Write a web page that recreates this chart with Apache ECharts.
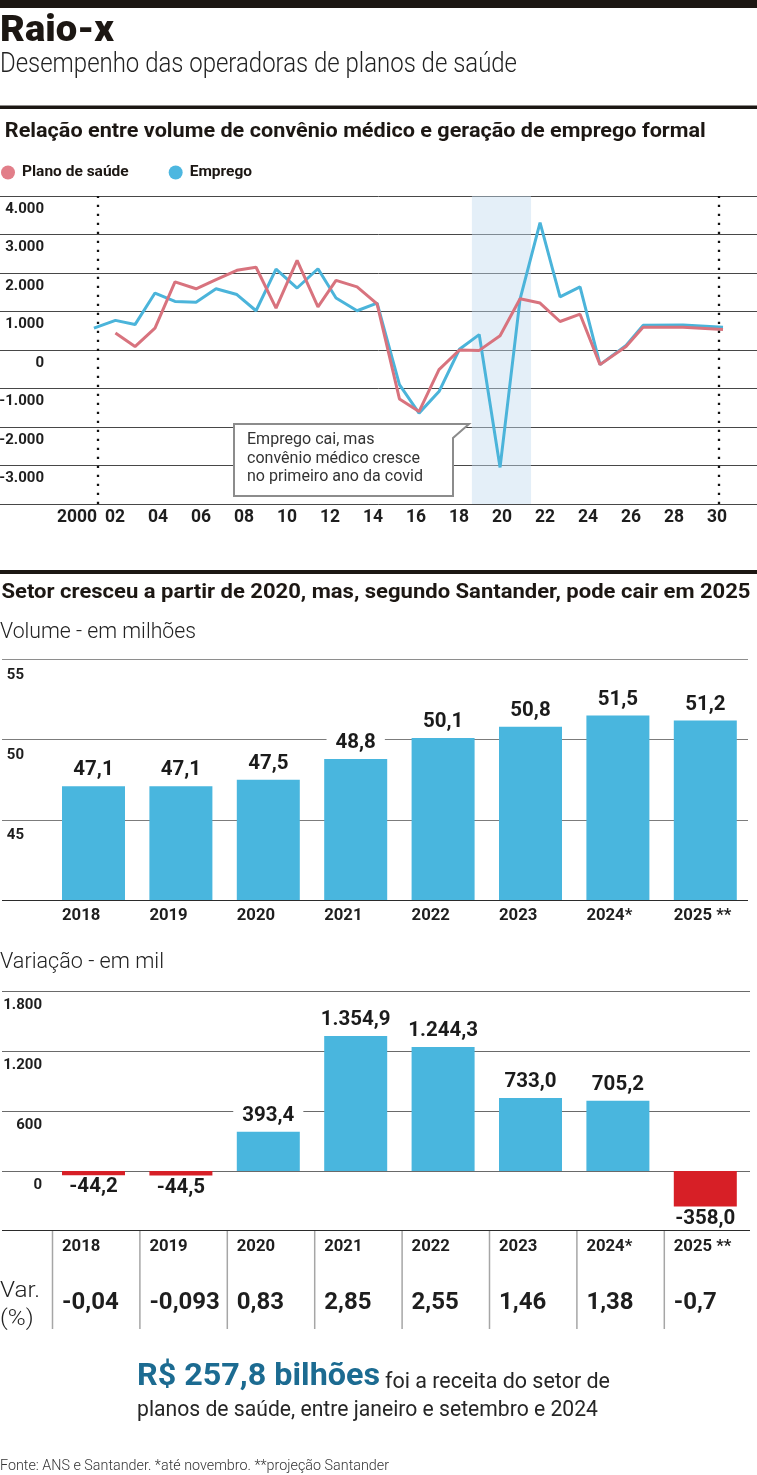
<!DOCTYPE html>
<html><head><meta charset="utf-8">
<script src="https://cdn.jsdelivr.net/npm/echarts@6/dist/echarts.min.js"></script>
<style>html,body{margin:0;padding:0;background:#fff;}#c{width:757px;height:1475px;}</style>
</head><body><div id="c"></div>
<script>
// ---------------- data ----------------
// horizontal position of each plotted point, in axis years (as drawn)
const pointPos = [2001.02, 2002.02, 2002.93, 2003.86, 2004.79, 2005.77, 2006.70, 2007.67, 2008.56, 2009.49,
  2010.47, 2011.44, 2012.28, 2013.26, 2014.19, 2015.23, 2016.14, 2017.07, 2018.02, 2018.94,
  2019.91, 2020.84, 2021.77, 2022.70, 2023.63, 2024.56, 2025.77, 2026.56, 2028.42, 2030.28];
const emprego = [570, 770, 660, 1480, 1260, 1240, 1590, 1440, 1020, 2100,
  1610, 2110, 1350, 1020, 1220, -900, -1640, -1080, 20, 400,
  -3050, 1320, 3310, 1380, 1640, -380, 120, 640, 650, 590];
const planoSaude = [null, 440, 90, 570, 1770, 1590, 1830, 2070, 2150, 1090,
  2330, 1120, 1810, 1640, 1200, -1270, -1600, -510, 0, -10,
  370, 1330, 1220, 740, 930, -380, 90, 590, 590, 530];
const covidStart = 2018.6, covidEnd = 2021.35;
const dottedMarks = [2001.18, 2030.09];

const barYears = ['2018', '2019', '2020', '2021', '2022', '2023', '2024*', '2025 **'];
const volume = [47.1, 47.1, 47.5, 48.8, 50.1, 50.8, 51.5, 51.2];
const variacao = [-44.2, -44.5, 393.4, 1354.9, 1244.3, 733.0, 705.2, -358.0];
const varPct = ['-0,04', '-0,093', '0,83', '2,85', '2,55', '1,46', '1,38', '-0,7'];

// ---------------- styling ----------------
const FONT = "Roboto,'Liberation Sans',sans-serif";
const INK = '#1c1713';
const BAR_BLUE = '#49b6de', BAR_RED = '#d71f26';
const LINE_RED = '#d8737e', LINE_BLUE = '#4bb4da';

const cv = document.createElement('canvas').getContext('2d');
function measure(text, weight, size) {
  cv.font = weight + ' ' + size + 'px ' + FONT;
  return cv.measureText(text).width;
}
function ptBR(v, dec) {
  const neg = v < 0;
  const s = Math.abs(v).toFixed(dec).split('.');
  const i = s[0].replace(/\B(?=(\d{3})+(?!\d))/g, '.');
  return (neg ? '-' : '') + i + (s[1] ? ',' + s[1] : '');
}

const TITLE = 'Raio-x';
const SUB = 'Desempenho das operadoras de planos de saúde';
const SEC1 = 'Relação entre volume de convênio médico e geração de emprego formal';
const SEC2 = 'Setor cresceu a partir de 2020, mas, segundo Santander, pode cair em 2025';
const VOL = 'Volume - em milhões';
const VAR = 'Variação - em mil';
const NOTE = 'Emprego cai, mas\nconvênio médico cresce\nno primeiro ano da covid';
const C1 = 'R$ 257,8 bilhões', C2 = 'foi a receita do setor de', C3 = 'planos de saúde, entre janeiro e setembro e 2024';
const FOOT = 'Fonte: ANS e Santander. *até novembro. **projeção Santander';

// condensed text: real text, squeezed horizontally to the reference width
function ST(id, text, x, y, size, weight, color, targetW, refLine, extra) {
  const w = measure(refLine || text, weight, size);
  return {type: 'text', id: id, x: x, y: y, z: 20, silent: true, scaleX: targetW / w, scaleY: 1,
    style: Object.assign({text: text, fontSize: size, fontWeight: weight, fontFamily: FONT,
      fill: color, align: 'left', verticalAlign: 'middle'}, extra || {})};
}

const baseGraphic = [
  {type: 'rect', id: 'topbar', shape: {x: 0, y: 0, width: 757, height: 8}, style: {fill: INK}, silent: true},
  ST('title', TITLE, 0, 32, 36, 900, INK, 114),
  ST('sub', SUB, 0, 65, 27, 300, '#222', 517),
  {type: 'rect', id: 'rule1', shape: {x: 0, y: 105.5, width: 757, height: 3.5}, style: {fill: INK}, silent: true},
  ST('sec1', SEC1, 4.8, 131.5, 21, 'bold', INK, 701),
  {type: 'polygon', id: 'notebox', z: 15, silent: true,
    shape: {points: [[234, 424], [469, 424], [453, 438], [453, 496], [234, 496]]},
    style: {fill: '#fff', stroke: '#8c8c8c', lineWidth: 2}},
  ST('note', NOTE, 247, 430.6, 16.5, 'normal', '#333', 173, 'convênio médico cresce', {verticalAlign: 'top', lineHeight: 18.7}),
  {type: 'rect', id: 'rule2', shape: {x: 0, y: 570, width: 757, height: 4}, style: {fill: INK}, silent: true},
  ST('sec2', SEC2, 1.5, 592.5, 21, 'bold', INK, 749),
  ST('vol', VOL, 0, 632, 22.5, 300, '#222', 196),
  ST('var', VAR, 0, 962.5, 22.5, 300, '#222', 164),
  ST('varpct', 'Var.\n(%)', 0, 1277.9, 22, 300, '#222', 40, 'Var.', {verticalAlign: 'top', lineHeight: 27.6}),
  ST('c1', C1, 137, 1377.5, 30.5, 'bold', '#1c6b91', 243),
  ST('c2', C2, 385, 1382.5, 21.5, 'normal', '#262626', 225),
  ST('c3', C3, 137, 1410.5, 21.5, 'normal', '#262626', 461),
  ST('foot', FOOT, 0, 1466, 14, 300, '#333', 389)
];

const numStyle = {fontFamily: FONT, fontWeight: 'bold', color: '#1e1e1e'};
const barLabel = {show: true, fontFamily: FONT, fontWeight: 'bold', fontSize: 20.5, color: '#1b1b1b',
  backgroundColor: '#fff', padding: [0, 9], lineHeight: 22, distance: 5,
  formatter: p => ptBR(p.value, 1)};

const option = {
  animation: false,
  backgroundColor: '#fff',
  graphic: baseGraphic,
  legend: {
    left: 1, top: 164.5, padding: 0, icon: 'circle', itemWidth: 14, itemHeight: 14, itemGap: 40,
    data: ['Plano de saúde', 'Emprego'], selectedMode: false,
    textStyle: {fontFamily: FONT, fontWeight: 'bold', fontSize: 15.5, color: INK, padding: [0, 0, 0, 2]}
  },
  grid: [
    {left: -14, right: -3, top: 196, height: 308, outerBoundsMode: 'none', containLabel: false},
    {left: 2, right: 9, top: 659.5, height: 240.5, outerBoundsMode: 'none'},
    {left: 49.8, right: 8, top: 659.5, height: 240.5, outerBoundsMode: 'none'},
    {left: 2, right: 7, top: 991.7, height: 239, outerBoundsMode: 'none'},
    {left: 49.8, right: 8, top: 991.7, height: 239, outerBoundsMode: 'none'}
  ],
  xAxis: [
    {gridIndex: 0, type: 'value', min: 1996, max: 2032, interval: 2,
      axisLine: {show: false}, axisTick: {show: false}, splitLine: {show: false},
      axisLabel: {margin: 4, showMinLabel: true, showMaxLabel: true,
        formatter: v => (v < 2000 || v > 2030) ? '' : (v === 2000 ? '{p|2000}' : '{n|' + String(v).slice(2) + '}'),
        rich: {p: Object.assign({fontSize: 17.5, lineHeight: 20, padding: [0, 0, 0, 10]}, numStyle),
               n: Object.assign({fontSize: 17.5, lineHeight: 20}, numStyle)}}},
    {gridIndex: 1, type: 'value', min: 0, max: 1, show: false},
    {gridIndex: 2, type: 'category', data: barYears,
      axisLine: {show: false}, axisTick: {show: false},
      axisLabel: {margin: 6, formatter: v => '{a|' + v + '}',
        rich: {a: Object.assign({fontSize: 16.7, lineHeight: 20, width: 63, align: 'left'}, numStyle)}}},
    {gridIndex: 3, type: 'value', min: 0, max: 1, show: false},
    {gridIndex: 4, type: 'category', data: barYears,
      axisLine: {show: false}, axisTick: {show: false},
      axisLabel: {margin: 5, interval: 0,
        formatter: (v, i) => '{y|' + v + '}\n{v|' + varPct[i] + '}',
        rich: {y: Object.assign({fontSize: 16.7, lineHeight: 22, width: 63, align: 'left'}, numStyle),
               v: Object.assign({fontSize: 24, lineHeight: 90, width: 63, align: 'left'}, numStyle)}}}
  ],
  yAxis: [
    {gridIndex: 0, type: 'value', min: -4000, max: 4000, interval: 1000,
      axisLine: {show: false}, axisTick: {show: false},
      splitLine: {lineStyle: {color: '#474747', width: 1}},
      axisLabel: {inside: true, margin: 58, align: 'right', verticalAlign: 'top', padding: [4, 0, 0, 0],
        lineHeight: 18, fontFamily: FONT, fontWeight: 'bold', fontSize: 15, color: '#1e1e1e',
        formatter: v => v === -4000 ? '' : ptBR(v, 0)}},
    {gridIndex: 1, type: 'value', min: 40, max: 55, interval: 5,
      axisLine: {show: false}, axisTick: {show: false},
      splitLine: {lineStyle: {color: ['#2b2b2b', '#7c7c7c', '#7c7c7c', '#8e8e8e'], width: 1.2}},
      axisLabel: {inside: true, margin: 22, align: 'right', verticalAlign: 'top', padding: [6.5, 0, 0, 0],
        lineHeight: 18, fontFamily: FONT, fontWeight: 'bold', fontSize: 15, color: '#1e1e1e',
        formatter: v => v === 40 ? '' : String(v)}},
    {gridIndex: 2, type: 'value', min: 40, max: 55, show: false},
    {gridIndex: 3, type: 'value', min: -600, max: 1800, interval: 600,
      axisLine: {show: false}, axisTick: {show: false},
      splitLine: {lineStyle: {color: ['#2b2b2b', '#6a6a6a', '#6a6a6a', '#6a6a6a', '#6a6a6a'], width: 1.2}},
      axisLabel: {inside: true, margin: 40, align: 'right', verticalAlign: 'top', padding: [5, 0, 0, 0],
        lineHeight: 18, fontFamily: FONT, fontWeight: 'bold', fontSize: 15, color: '#1e1e1e',
        formatter: v => v === -600 ? '' : ptBR(v, 0)}},
    {gridIndex: 4, type: 'value', min: -600, max: 1800, show: false}
  ],
  series: [
    {name: 'Emprego', type: 'line', xAxisIndex: 0, yAxisIndex: 0, symbol: 'none',
      data: pointPos.map((x, i) => [x, emprego[i]]),
      itemStyle: {color: '#4db7e0'}, lineStyle: {color: LINE_BLUE, width: 3}, z: 3,
      markArea: {silent: true, itemStyle: {color: 'rgba(196,220,240,0.45)'},
        data: [[{xAxis: covidStart}, {xAxis: covidEnd}]]},
      markLine: {silent: true, symbol: ['none', 'none'], label: {show: false},
        lineStyle: {color: '#111', width: 2.3, type: [2.3, 6.7]},
        data: dottedMarks.map(x => ({xAxis: x}))}},
    {name: 'Plano de saúde', type: 'line', xAxisIndex: 0, yAxisIndex: 0, symbol: 'none',
      data: pointPos.map((x, i) => [x, planoSaude[i]]).filter(d => d[1] !== null),
      itemStyle: {color: '#e27e89'}, lineStyle: {color: LINE_RED, width: 3}, z: 4},
    {name: 'Volume', type: 'bar', xAxisIndex: 2, yAxisIndex: 2, barWidth: 63,
      data: volume, itemStyle: {color: BAR_BLUE},
      label: Object.assign({position: 'top'}, barLabel)},
    {name: 'Variação', type: 'bar', xAxisIndex: 4, yAxisIndex: 4, barWidth: 63,
      data: variacao.map(v => ({value: v, itemStyle: {color: v < 0 ? BAR_RED : BAR_BLUE},
        label: {position: v < 0 ? 'bottom' : 'top', distance: v < 0 ? 1 : 5}})),
      label: Object.assign({}, barLabel)}
  ]
};

const chart = echarts.init(document.getElementById('c'), null, {renderer: 'canvas'});
chart.setOption(option);
const seps = barYears.map((y, i) => {
  const cx = chart.convertToPixel({xAxisIndex: 4}, i) - 41;
  return {type: 'line', id: 'sep' + i, silent: true,
    shape: {x1: cx, y1: 1231, x2: cx, y2: 1329}, style: {stroke: '#a6a6a6', lineWidth: 1.5}};
});
chart.setOption({graphic: baseGraphic.concat(seps)});
</script>
</body></html>
